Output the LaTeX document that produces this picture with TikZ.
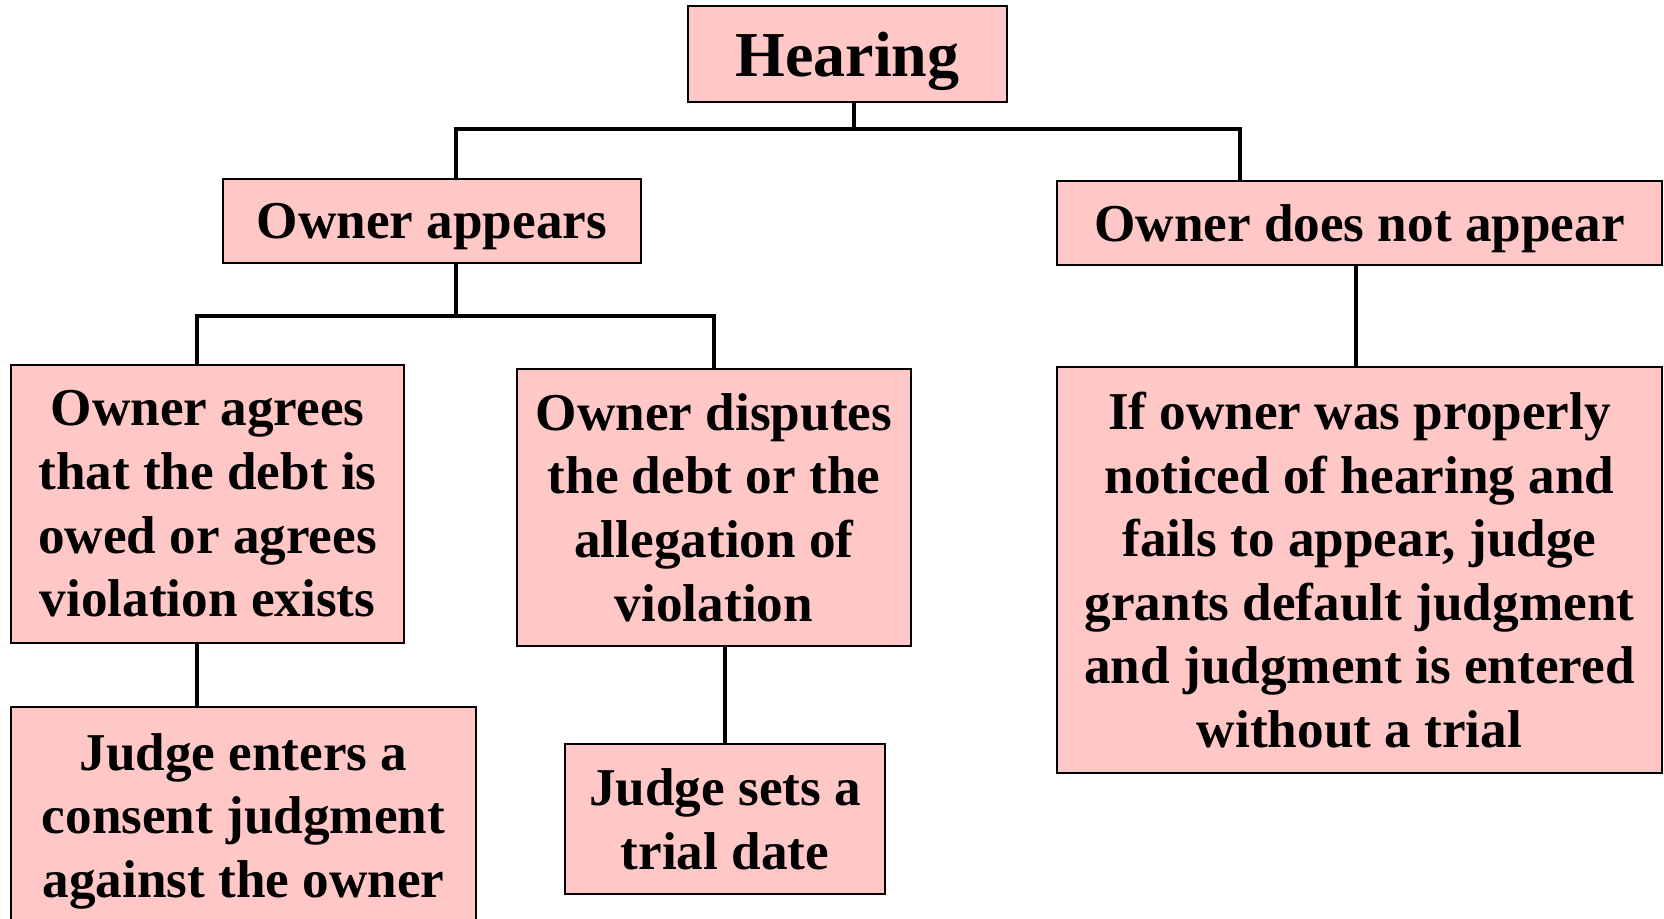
\documentclass[tikz,border=0pt]{standalone}
\usepackage{fontspec}
\setmainfont{Liberation Serif}
\usetikzlibrary{calc}
\definecolor{boxpink}{RGB}{255,199,198}
\tikzset{
	stepbox/.style={draw=black, line width=0.75pt, fill=boxpink, align=center, inner sep=0pt,
		font=\fontsize{26.6}{31.8}\selectfont\bfseries},
	onebox/.style={stepbox, text depth=0pt},
	link/.style={line width=2.2pt, line cap=rect}
}

\begin{document}
\begin{tikzpicture}[x=0.5pt, y=-0.5pt]
		%%%%% START %%%%%
		\clip (0, 0) rectangle (1664, 918);
		
		\node[onebox, minimum width=159.5pt, minimum height=48pt, font=\fontsize{32}{38}\selectfont\bfseries] (hear) at (847.5, 54) {Hearing};
		
		\node[onebox, minimum width=209pt, minimum height=42pt] (appear) at (432, 221) {Owner appears};
		\node[onebox, minimum width=302.5pt, minimum height=42pt] (nappear) at (1359.5, 223) {Owner does not appear};
		
		\node[stepbox, minimum width=196.5pt, minimum height=139pt] (agree) at (207.5, 504) {Owner agrees\\that the debt is\\owed or agrees\\violation exists};
		\node[stepbox, minimum width=197pt, minimum height=138.5pt] (dispute) at (714, 507.5) {Owner disputes\\the debt or the\\allegation of\\violation};
		\node[stepbox, minimum width=302.5pt, minimum height=203pt] (default) at (1359.5, 570) {If owner was properly\\noticed of hearing and\\fails to appear, judge\\grants default judgment\\and judgment is entered\\without a trial};
		
		\node[stepbox, minimum width=232.5pt, minimum height=114pt] (consent) at (243.5, 821) {Judge enters a\\consent judgment\\against the owner};
		\node[stepbox, minimum width=160pt, minimum height=75pt] (trial) at (725, 819) {Judge sets a\\trial date};
		
		\coordinate (top) at (854, 129);
		\coordinate (topl) at (456, 129);
		\coordinate (topr) at (1240, 129);
		\coordinate (mid) at (456, 316);
		\coordinate (midl) at (197, 316);
		\coordinate (midr) at (714, 316);
		
		\draw[link] (hear.south -| top) -- (top);
		\draw[link] (appear.north -| topl) -- (topl) -- (topr) -- (nappear.north -| topr);
		\draw[link] (appear.south -| mid) -- (mid);
		\draw[link] (agree.north -| midl) -- (midl) -- (midr) -- (dispute.north -| midr);
		\draw[link] (nappear.south -| 1356, 0) -- (default.north -| 1356, 0);
		\draw[link] (agree.south -| midl) -- (consent.north -| midl);
		\draw[link] (dispute.south -| 725, 0) -- (trial.north -| 725, 0);
		%%%%% END %%%%%
	\end{tikzpicture}
\end{document}
